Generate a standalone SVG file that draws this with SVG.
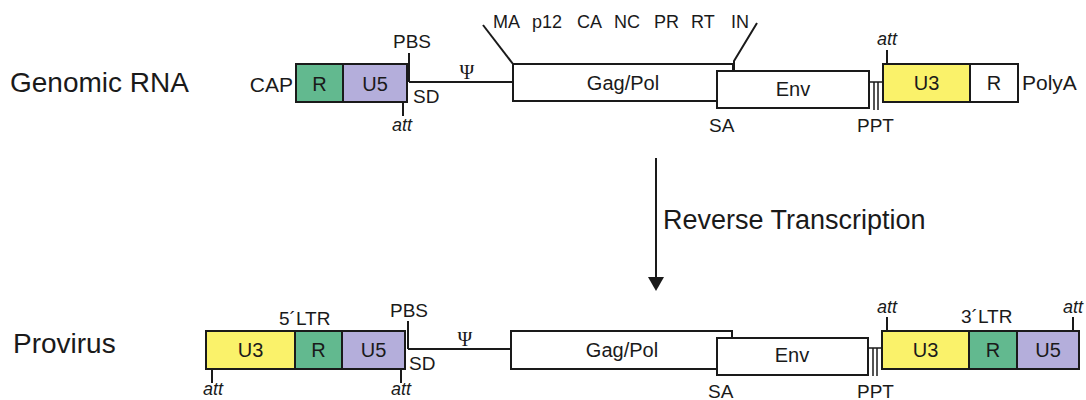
<svg xmlns="http://www.w3.org/2000/svg" width="1086" height="400" viewBox="0 0 1086 400">
  <style>
    text { font-family: "Liberation Sans", Arial, sans-serif; fill: #1a1a1a; }
    .box { stroke: #1a1a1a; stroke-width: 2; }
    .white { fill: #ffffff; }
    .r { fill: #62b98f; }
    .u5 { fill: #b4aedb; }
    .u3 { fill: #faf26a; }
    .ln { stroke: #1a1a1a; stroke-width: 2; fill: none; }
    .thin { stroke: #1a1a1a; stroke-width: 1.5; fill: none; }
    .title { font-size: 28px; }
    .seg { font-size: 20px; text-anchor: middle; }
    .lab { font-size: 19px; }
    .mid { text-anchor: middle; }
    .att { font-size: 18px; font-style: italic; text-anchor: middle; }
    .psi { font-family: "Liberation Serif", "Times New Roman", serif; font-size: 20px; text-anchor: middle; }
    .prot { font-size: 18px; }
  </style>

  <!-- row titles -->
  <g id="title-rna"><text class="title" x="10" y="92">Genomic RNA</text></g>
  <g id="title-provirus"><text class="title" x="13" y="353">Provirus</text></g>

  <!-- ===== Genomic RNA ===== -->
  <g id="rna-cap"><text class="lab" x="293" y="92" text-anchor="end" style="font-size:21px">CAP</text></g>
  <g id="rna-r">
    <rect class="box r" x="296" y="64" width="47" height="38"/>
    <text class="seg" x="319.5" y="91">R</text>
  </g>
  <g id="rna-u5">
    <rect class="box u5" x="343" y="64" width="64" height="38"/>
    <text class="seg" x="375" y="91">U5</text>
  </g>
  <g id="rna-pbs">
    <text class="lab mid" x="412" y="48">PBS</text>
    <text class="lab" x="413" y="103">SD</text>
    <text class="att" x="402" y="131">att</text>
    <text class="psi" x="467" y="79">Ψ</text>
  </g>
  <g id="rna-gagpol">
    <rect class="box white" x="513" y="64" width="220" height="37"/>
    <text class="seg" x="623" y="90">Gag/Pol</text>
  </g>
  <g id="rna-proteins">
    <text class="prot" x="493" y="28">MA</text>
    <text class="prot" x="532" y="28">p12</text>
    <text class="prot" x="577" y="28">CA</text>
    <text class="prot" x="614" y="28">NC</text>
    <text class="prot" x="654" y="28">PR</text>
    <text class="prot" x="691" y="28">RT</text>
    <text class="prot" x="731" y="28">IN</text>
  </g>
  <g id="rna-env">
    <rect class="box white" x="717" y="71" width="152" height="37"/>
    <text class="seg" x="793" y="96">Env</text>
    <text class="lab" x="709" y="132">SA</text>
  </g>
  <g id="rna-ppt"><text class="lab" x="857" y="132">PPT</text></g>
  <g id="rna-u3">
    <rect class="box u3" x="883" y="64" width="87" height="38"/>
    <text class="seg" x="926.5" y="90">U3</text>
    <text class="att" x="887" y="45">att</text>
  </g>
  <g id="rna-r3">
    <rect class="box white" x="970" y="64" width="48" height="38"/>
    <text class="seg" x="994" y="90">R</text>
  </g>
  <g id="rna-polya"><text class="lab" x="1022" y="90" style="font-size:21px">PolyA</text></g>

  <!-- ===== Provirus ===== -->
  <g id="pv-ltr5-label"><text class="lab" x="279" y="325">5´LTR</text></g>
  <g id="pv-u3">
    <rect class="box u3" x="206" y="331" width="89" height="38"/>
    <text class="seg" x="250.5" y="357">U3</text>
    <text class="att" x="213" y="395">att</text>
  </g>
  <g id="pv-r">
    <rect class="box r" x="295" y="331" width="47" height="38"/>
    <text class="seg" x="318.5" y="357">R</text>
  </g>
  <g id="pv-u5">
    <rect class="box u5" x="342" y="331" width="63" height="38"/>
    <text class="seg" x="373.5" y="357">U5</text>
    <text class="att" x="401" y="395">att</text>
  </g>
  <g id="pv-pbs">
    <text class="lab mid" x="409" y="317">PBS</text>
    <text class="lab" x="409" y="370">SD</text>
    <text class="psi" x="465" y="346">Ψ</text>
  </g>
  <g id="pv-gagpol">
    <rect class="box white" x="511" y="331" width="221" height="38"/>
    <text class="seg" x="622" y="357">Gag/Pol</text>
  </g>
  <g id="pv-env">
    <rect class="box white" x="717" y="338" width="151" height="37"/>
    <text class="seg" x="792" y="362">Env</text>
    <text class="lab" x="708" y="398">SA</text>
  </g>
  <g id="pv-ppt"><text class="lab" x="857" y="398">PPT</text></g>
  <g id="pv-ltr3-label"><text class="lab" x="961" y="323">3´LTR</text></g>
  <g id="pv-u3b">
    <rect class="box u3" x="882" y="331" width="87" height="38"/>
    <text class="seg" x="925.5" y="357">U3</text>
    <text class="att" x="887" y="313">att</text>
  </g>
  <g id="pv-rb">
    <rect class="box r" x="969" y="331" width="48" height="38"/>
    <text class="seg" x="993" y="357">R</text>
  </g>
  <g id="pv-u5b">
    <rect class="box u5" x="1017" y="331" width="62" height="38"/>
    <text class="seg" x="1048" y="357">U5</text>
    <text class="att" x="1073" y="313">att</text>
  </g>

  <!-- ===== connectors and ticks ===== -->
  <g id="connectors">
    <!-- genomic RNA -->
    <line class="ln" x1="409" y1="53" x2="409" y2="82"/>
    <line class="ln" x1="409" y1="82" x2="513" y2="82"/>
    <line class="ln" x1="403" y1="102" x2="403" y2="116"/>
    <line class="ln" x1="483" y1="25" x2="513" y2="64"/>
    <polyline class="ln" points="757,23 734,61 734,71"/>
    <line class="thin" x1="869" y1="82" x2="883" y2="82"/>
    <line class="thin" x1="874" y1="82" x2="874" y2="110"/>
    <line class="thin" x1="878" y1="82" x2="878" y2="110"/>
    <line class="ln" x1="887" y1="50" x2="887" y2="64"/>

    <!-- reverse transcription arrow -->
    <line class="ln" x1="656" y1="158" x2="656" y2="279"/>
    <polygon points="648,277 664,277 656,291" fill="#1a1a1a"/>
    <text x="663" y="229" style="font-size:27px">Reverse Transcription</text>

    <!-- provirus -->
    <line class="ln" x1="408" y1="321" x2="408" y2="349"/>
    <line class="ln" x1="408" y1="349" x2="511" y2="349"/>
    <line class="ln" x1="212" y1="369" x2="212" y2="383"/>
    <line class="ln" x1="401" y1="369" x2="401" y2="383"/>
    <line class="thin" x1="868" y1="348" x2="882" y2="348"/>
    <line class="thin" x1="873" y1="348" x2="873" y2="376"/>
    <line class="thin" x1="877" y1="348" x2="877" y2="376"/>
    <line class="ln" x1="887" y1="317" x2="887" y2="331"/>
    <line class="ln" x1="1073" y1="317" x2="1073" y2="331"/>
  </g>
</svg>
